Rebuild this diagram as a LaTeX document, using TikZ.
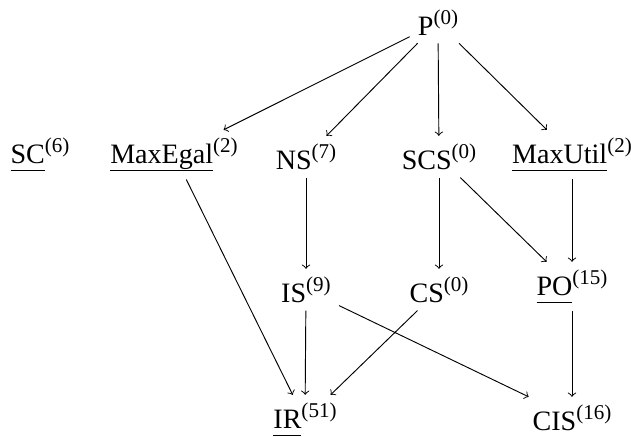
\documentclass[tikz,border=0pt]{standalone}
\usepackage{fontspec}
\setmainfont{Liberation Serif}
\newsavebox\ulbox
\newcommand\ulx[1]{\sbox\ulbox{#1}\rlap{\rule[-3.5pt]{\wd\ulbox}{0.45pt}}\usebox\ulbox}
\newcommand\supx[1]{\raisebox{4.4pt}{\fontsize{9}{10}\selectfont(#1)}}
\begin{document}
\begin{tikzpicture}[x=0.4275pt,y=-0.4275pt,
  lbl/.style={font=\fontsize{12}{14}\selectfont, anchor=base, inner sep=0.3333em},
  arr/.style={->, line width=0.4pt}]
\useasboundingbox (0,0) rectangle (631,436);
\node[lbl] (P)   at (438,35)  {P\supx{0}};
\node[lbl] (SC)  at (40,163)  {\ulx{SC}\supx{6}};
\node[lbl] (ME)  at (174,163) {\ulx{MaxEgal}\supx{2}};
\node[lbl] (NS)  at (306,169) {NS\supx{7}};
\node[lbl] (SCS) at (439,169) {SCS\supx{0}};
\node[lbl] (MU)  at (572,163) {\ulx{MaxUtil}\supx{2}};
\node[lbl] (IS)  at (306,302) {IS\supx{9}};
\node[lbl] (CS)  at (439,302) {CS\supx{0}};
\node[lbl] (PO)  at (572,295) {\ulx{PO}\supx{15}};
\node[lbl] (IR)  at (305,428) {\ulx{IR}\supx{51}};
\node[lbl] (CIS) at (572,430) {CIS\supx{16}};
\draw[arr] (P) -- (ME);
\draw[arr] (P) -- (NS);
\draw[arr] (P) -- (SCS);
\draw[arr] (P) -- (MU);
\draw[arr] (ME) -- (IR);
\draw[arr] (NS) -- (IS);
\draw[arr] (SCS) -- (CS);
\draw[arr] (SCS) -- (PO);
\draw[arr] (MU) -- (PO);
\draw[arr] (IS) -- (IR);
\draw[arr] (IS) -- (CIS);
\draw[arr] (CS) -- (IR);
\draw[arr] (PO) -- (CIS);
\end{tikzpicture}
\end{document}
